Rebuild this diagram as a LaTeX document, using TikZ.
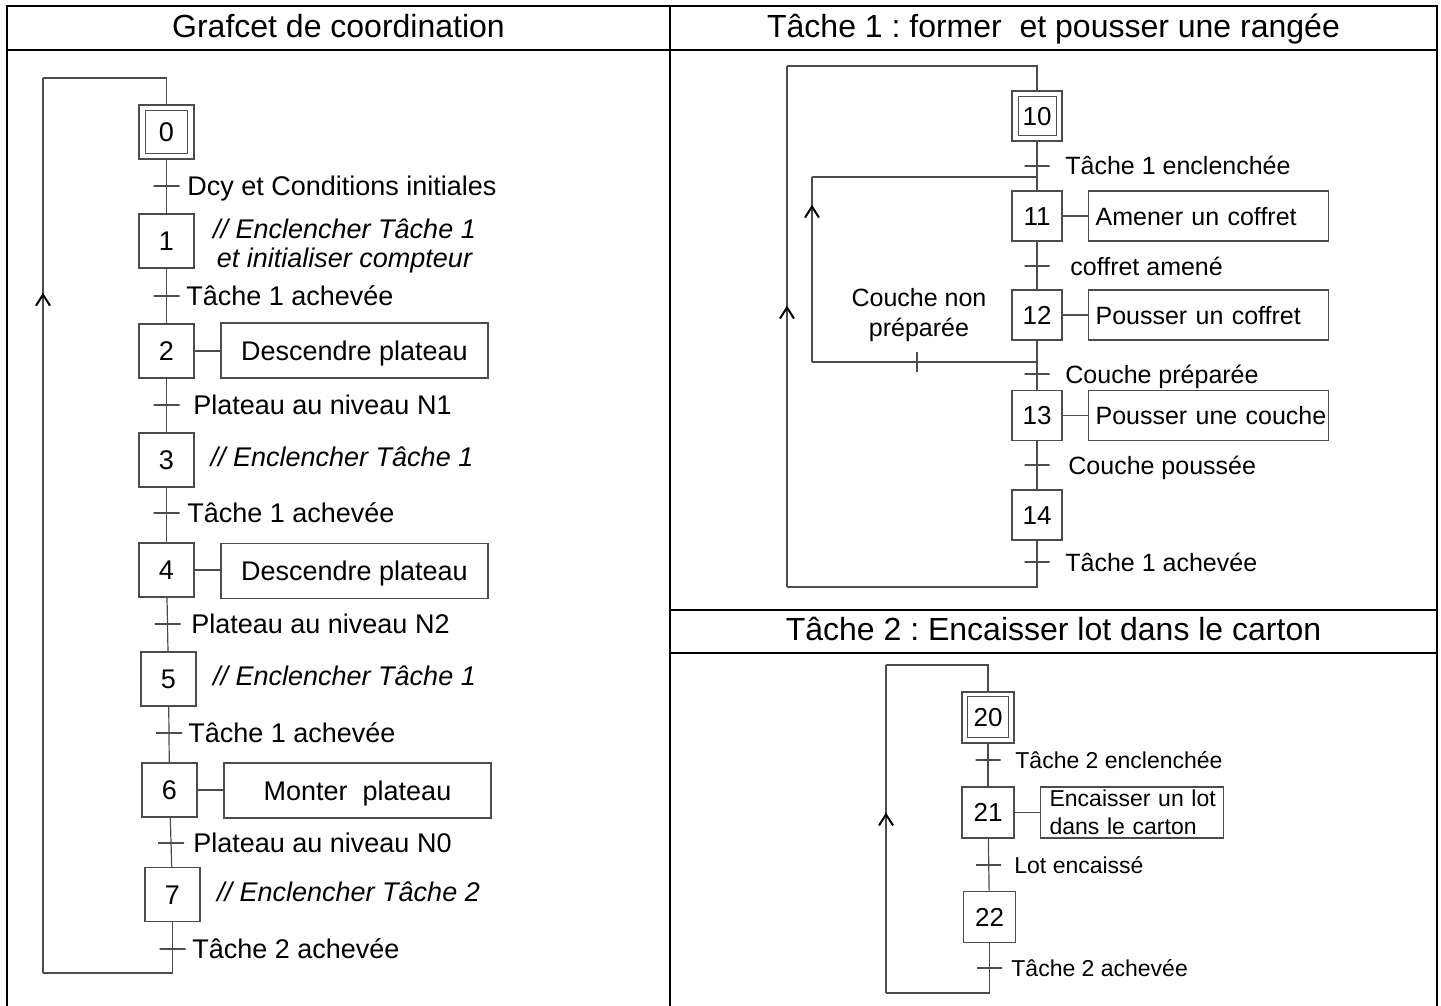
\documentclass[tikz,border=0pt]{standalone}
\usepackage{fontspec}
\setmainfont{Liberation Sans}
\usetikzlibrary{arrows.meta,decorations.markings}
\frenchspacing

\tikzset{
  tabline/.style={line width=1pt},
  gline/.style={draw=black!70,line width=0.6pt},
  title/.style={font=\fontsize{16}{19}\selectfont,inner sep=0pt,text height=11.5pt,text depth=0pt},
  stepA/.style={gline,inner sep=0pt,minimum width=27.5pt,minimum height=27pt,font=\fontsize{13.5}{16}\selectfont,text height=9.7pt,text depth=0pt},
  stepB/.style={gline,inner sep=0pt,minimum width=25pt,minimum height=25pt,font=\fontsize{13}{15}\selectfont,text height=9.3pt,text depth=0pt},
  stepC/.style={gline,inner sep=0pt,minimum width=26pt,minimum height=25.5pt,font=\fontsize{13}{15}\selectfont,text height=9.3pt,text depth=0pt},
  tickA/.style={gline,inner sep=0pt,minimum width=13pt,minimum height=0pt},
  tickB/.style={gline,inner sep=0pt,minimum width=12.5pt,minimum height=0pt},
  vtick/.style={gline,inner sep=0pt,minimum width=0pt,minimum height=10pt},
  condA/.style={anchor=west,inner sep=0pt,font=\fontsize{13.5}{16}\selectfont,text height=9.7pt,text depth=0pt},
  condB/.style={anchor=west,inner sep=0pt,font=\fontsize{12.5}{15}\selectfont,text height=9pt,text depth=0pt},
  condC/.style={anchor=west,inner sep=0pt,font=\fontsize{11.5}{14}\selectfont,text height=8.2pt,text depth=0pt},
  doA/.style={inner sep=0pt,font=\fontsize{13.5}{14.5}\selectfont\itshape},
  actA/.style={gline,inner sep=0pt,minimum width=133.5pt,minimum height=27.5pt,font=\fontsize{13.5}{16}\selectfont,text height=9.7pt,text depth=0pt},
  actB/.style={gline,anchor=west,inner ysep=0pt,inner xsep=3.5pt,text width=113pt,align=left,minimum height=25pt,font=\fontsize{12.5}{15}\selectfont,text height=9pt,text depth=0pt},
  actC/.style={gline,anchor=west,inner ysep=0pt,inner xsep=4.5pt,text width=82.5pt,align=left,minimum height=25.5pt,font=\fontsize{11.5}{14}\selectfont},
  arrowat/.style={postaction={decorate},decoration={markings,mark=at position #1 with {\arrow{Straight Barb[length=5.5pt,width=7pt,line width=1pt,color=black]}}}}
}

\begin{document}
\begin{tikzpicture}[x=0.5pt,y=-0.5pt]
\useasboundingbox (0,0) rectangle (1441,1006);

\draw[tabline] (7,1006) -- (7,6) -- (1437,6) -- (1437,1006);
\draw[tabline] (7,50) -- (1437,50);
\draw[tabline] (670,6) -- (670,1006);
\draw[tabline] (670,610) -- (1437,610);
\draw[tabline] (670,653) -- (1437,653);

\node[title] (h0) at (338.5,26) {Grafcet de coordination};
\node[title] (h1) at (1053.5,26) {Tâche 1 : former~ et pousser une rangée};
\node[title] (h2) at (1053.5,629) {Tâche 2 : Encaisser lot dans le carton};

\foreach \n/\x/\y in {0/166.5/132,1/166.5/241,2/166.5/351,3/166.5/460,4/166.5/570,5/168.5/679,6/169.5/790,7/172.5/894.5}
  \node[stepA] (s\n) at (\x,\y) {\n};
\draw[gline] ([shift={(7,6)}]s0.north west) rectangle ([shift={(-7,-6)}]s0.south east);

\foreach \a/\b in {0/1,1/2,2/3,3/4,4/5,5/6,6/7}
  \draw[gline] (s\a) -- (s\b);

\foreach \n/\x/\y/\lx/\txt in {0/166.5/186/187/Dcy et Conditions initiales,1/166.5/296/186/Tâche 1 achevée,2/166.5/405/193/Plateau au niveau N1,3/166.5/513/187/Tâche 1 achevée,4/167.5/624/191/Plateau au niveau N2,5/169/733/188/Tâche 1 achevée,6/171/843/193/Plateau au niveau N0,7/172.5/949/192/Tâche 2 achevée}
{
  \node[tickA] (t\n) at (\x,\y) {};
  \node[condA] (c\n) at (\lx,\y) {\txt};
}

\node[actA] (a2) at (354.5,350.5) {Descendre plateau};
\node[actA] (a4) at (354.5,571) {Descendre plateau};
\node[actA] (a6) at (357.5,790.5) {Monter~ plateau};
\foreach \n in {2,4,6}
  \draw[gline] (s\n.east) -- (s\n.east -| a\n.west);

\node[doA,align=center] (d1) at (344.5,246) {// Enclencher Tâche 1\\et initialiser compteur};
\node[doA,text height=9.7pt,text depth=0pt] (d3) at (342,457) {// Enclencher Tâche 1};
\node[doA,text height=9.7pt,text depth=0pt] (d5) at (344.5,675.5) {// Enclencher Tâche 1};
\node[doA,text height=9.7pt,text depth=0pt] (d7) at (348.5,892) {// Enclencher Tâche 2};

\coordinate (lb) at (172.5,973);
\coordinate (lbl) at (43,973);
\coordinate (ltl) at (43,78);
\coordinate (lt) at (166.5,78);
\draw[gline] (s7) -- (lb) -- (lbl);
\draw[gline,arrowat=0.76] (lbl) -- (ltl);
\draw[gline] (ltl) -- (lt) -- (s0);

\foreach \n/\y in {10/116,11/216,12/315,13/415.5,14/515}
  \node[stepB] (s\n) at (1037,\y) {\n};
\draw[gline] ([shift={(7,6)}]s10.north west) rectangle ([shift={(-6,-6)}]s10.south east);

\foreach \a/\b in {10/11,11/12,12/13,13/14}
  \draw[gline] (s\a) -- (s\b);

\foreach \n/\y/\lx/\txt in {10/166/1065/Tâche 1 enclenchée,11/266/1070/coffret amené,12/374/1065/Couche préparée,13/465/1068/Couche poussée,14/562/1065/Tâche 1 achevée}
{
  \node[tickB] (t\n) at (1037,\y) {};
  \node[condB] (c\n) at (\lx,\y) {\txt};
}

\foreach \n/\y/\txt in {11/216/Amener un coffret,12/315/Pousser un coffret,13/415.5/Pousser une couche}
{
  \node[actB] (a\n) at (1088,\y) {\mbox{\txt}};
  \draw[gline] (s\n) -- (a\n);
}

\coordinate (ib) at (1037,362);
\coordinate (ibl) at (812,362);
\coordinate (itl) at (812,177);
\coordinate (it) at (1037,177);
\draw[gline] (ib) -- (ibl);
\draw[gline,arrowat=0.85] (ibl) -- (itl);
\draw[gline] (itl) -- (it);
\node[vtick] (tn) at (917,362) {};
\node[inner sep=0pt,align=center,font=\fontsize{12.5}{15}\selectfont] (cn) at (919,315) {Couche non\\préparée};

\coordinate (ob) at (1037,587);
\coordinate (obl) at (787,587);
\coordinate (otl) at (787,66);
\coordinate (ot) at (1037,66);
\draw[gline] (s14) -- (ob) -- (obl);
\draw[gline,arrowat=0.54] (obl) -- (otl);
\draw[gline] (otl) -- (ot) -- (s10);

\node[stepC] (s20) at (988,717.5) {20};
\node[stepC] (s21) at (988,812.5) {21};
\node[stepC] (s22) at (989.5,917) {22};
\draw[gline] ([shift={(6,5)}]s20.north west) rectangle ([shift={(-6,-6)}]s20.south east);
\draw[gline] (s20) -- (s21);
\draw[gline] (s21) -- (s22);

\foreach \n/\x/\y/\lx/\txt in {20/988/760/1015/Tâche 2 enclenchée,21/988.5/865/1014/Lot encaissé,22/989.5/968/1011/Tâche 2 achevée}
{
  \node[tickB] (t\n) at (\x,\y) {};
  \node[condC] (c\n) at (\lx,\y) {\txt};
}

\node[actC] (a21) at (1040,812.5) {\mbox{Encaisser un lot}\\\mbox{dans le carton}};
\draw[gline] (s21) -- (a21);

\coordinate (qb) at (989.5,993);
\coordinate (qbl) at (886,993);
\coordinate (qtl) at (886,665);
\coordinate (qt) at (988,665);
\draw[gline] (s22) -- (qb) -- (qbl);
\draw[gline,arrowat=0.55] (qbl) -- (qtl);
\draw[gline] (qtl) -- (qt) -- (s20);
\end{tikzpicture}
\end{document}
